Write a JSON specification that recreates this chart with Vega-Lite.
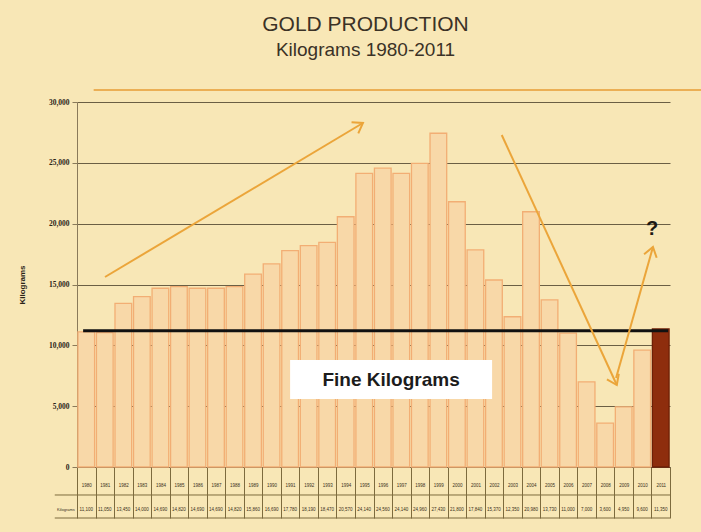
{
  "$schema": "https://vega.github.io/schema/vega-lite/v6.json",
  "width": 593,
  "height": 365,
  "autosize": {"type": "none"},
  "padding": {"left": 77, "top": 102, "right": 31, "bottom": 65},
  "background": "#f8e7b6",
  "config": {"view": {"stroke": null}, "font": "Liberation Sans"},
  "title": {
    "text": "GOLD PRODUCTION",
    "subtitle": "Kilograms 1980-2011",
    "font": "Liberation Sans",
    "subtitleFont": "Liberation Sans",
    "fontSize": 21,
    "subtitleFontSize": 19,
    "fontWeight": "normal",
    "color": "#3b3226",
    "subtitleColor": "#3b3226",
    "anchor": "middle",
    "dx": -8,
    "offset": 29,
    "subtitlePadding": 6
  },
  "datasets": {
    "gold": [
      {"year": 1980, "kg": 11100},
      {"year": 1981, "kg": 11050},
      {"year": 1982, "kg": 13450},
      {"year": 1983, "kg": 14000},
      {"year": 1984, "kg": 14690},
      {"year": 1985, "kg": 14820},
      {"year": 1986, "kg": 14690},
      {"year": 1987, "kg": 14690},
      {"year": 1988, "kg": 14820},
      {"year": 1989, "kg": 15860},
      {"year": 1990, "kg": 16690},
      {"year": 1991, "kg": 17780},
      {"year": 1992, "kg": 18190},
      {"year": 1993, "kg": 18470},
      {"year": 1994, "kg": 20570},
      {"year": 1995, "kg": 24140},
      {"year": 1996, "kg": 24560},
      {"year": 1997, "kg": 24140},
      {"year": 1998, "kg": 24960},
      {"year": 1999, "kg": 27430},
      {"year": 2000, "kg": 21800},
      {"year": 2001, "kg": 17840},
      {"year": 2002, "kg": 15370},
      {"year": 2003, "kg": 12350},
      {"year": 2004, "kg": 20980},
      {"year": 2005, "kg": 13730},
      {"year": 2006, "kg": 11000},
      {"year": 2007, "kg": 7000},
      {"year": 2008, "kg": 3600},
      {"year": 2009, "kg": 4950},
      {"year": 2010, "kg": 9600},
      {"year": 2011, "kg": 11350}
    ]
  },
  "layer": [
    {
      "data": {"name": "gold"},
      "layer": [
        {
          "mark": {"type": "bar", "width": {"band": 0.9}, "strokeWidth": 1.3},
          "encoding": {
            "x": {
              "field": "year",
              "type": "ordinal",
              "scale": {"paddingInner": 0, "paddingOuter": 0},
              "axis": {
                "title": null,
                "orient": "bottom",
                "tickBand": "extent",
                "tickSize": 51,
                "tickColor": "#7d6b3e",
                "tickWidth": 1,
                "domainColor": "#5d5238",
                "domainWidth": 1.2,
                "labelAngle": 0,
                "labelFontSize": 4.5,
                "labelColor": "#3a3020",
                "labelBaseline": "middle",
                "labelPadding": -33,
                "labelOverlap": false,
                "labelFlush": false
              }
            },
            "y": {
              "field": "kg",
              "type": "quantitative",
              "scale": {"domain": [0, 30000], "nice": false},
              "axis": {
                "title": "Kilograms",
                "titleFont": "Liberation Sans",
                "titleFontSize": 8,
                "titleFontWeight": "bold",
                "titleColor": "#2b2418",
                "titlePadding": 22,
                "values": [0, 5000, 10000, 15000, 20000, 25000, 30000],
                "format": ",d",
                "labelFont": "Liberation Serif",
                "labelFontWeight": "bold",
                "labelFontSize": 7.5,
                "labelColor": "#2b2418",
                "labelPadding": 3,
                "tickSize": 5,
                "tickColor": "#8a7a5a",
                "domainColor": "#8a7a5a",
                "grid": true,
                "gridColor": "#6b5f44",
                "gridWidth": 1
              }
            },
            "fill": {
              "condition": {"test": "datum.year == 2011", "value": "#8e2d0d"},
              "value": "#f8d8a8"
            },
            "stroke": {
              "condition": {"test": "datum.year == 2011", "value": "#6e1f06"},
              "value": "#f2ae74"
            }
          }
        },
        {
          "mark": {"type": "text", "fontSize": 4.5, "color": "#3a3020", "baseline": "middle"},
          "encoding": {
            "x": {"field": "year", "type": "ordinal", "scale": {"paddingInner": 0, "paddingOuter": 0}},
            "y": {"datum": -3550, "type": "quantitative"},
            "text": {"field": "kg", "type": "quantitative", "format": ",d"}
          }
        }
      ]
    },
    {
      "data": {"values": [{}]},
      "layer": [
        {
          "mark": {"type": "rule", "color": "#7d6b3e", "strokeWidth": 1},
          "encoding": {
            "x": {"datum": 1978.3, "type": "quantitative", "scale": {"domain": [1979.5, 2011.5], "nice": false, "zero": false}, "axis": null},
            "x2": {"datum": 2011.5},
            "y": {"datum": -2301, "type": "quantitative"}
          }
        },
        {
          "mark": {"type": "rule", "color": "#7d6b3e", "strokeWidth": 1},
          "encoding": {
            "x": {"datum": 1978.3, "type": "quantitative"},
            "x2": {"datum": 2011.5},
            "y": {"datum": -4192, "type": "quantitative"}
          }
        },
        {
          "mark": {"type": "text", "text": "Kilograms", "fontSize": 4, "color": "#3a3020", "baseline": "middle"},
          "encoding": {
            "x": {"datum": 1978.9, "type": "quantitative"},
            "y": {"datum": -3550, "type": "quantitative"}
          }
        },
        {
          "mark": {"type": "rule", "color": "#e9a544", "strokeWidth": 2, "strokeOpacity": 0.85},
          "encoding": {
            "x": {"datum": 1980.4, "type": "quantitative"},
            "x2": {"datum": 2013.4},
            "y": {"datum": 30990, "type": "quantitative"}
          }
        },
        {
          "mark": {"type": "rule", "color": "#111111", "strokeWidth": 3},
          "encoding": {
            "x": {"datum": 1979.83, "type": "quantitative"},
            "x2": {"datum": 2011.4},
            "y": {"datum": 11200, "type": "quantitative"}
          }
        },
        {
          "mark": {"type": "rect", "fill": "#ffffff"},
          "encoding": {
            "x": {"datum": 1991.0, "type": "quantitative"},
            "x2": {"datum": 2001.9},
            "y": {"datum": 8795, "type": "quantitative"},
            "y2": {"datum": 5590}
          }
        },
        {
          "mark": {"type": "text", "text": "Fine Kilograms", "fontSize": 19, "fontWeight": "bold", "font": "Liberation Sans", "color": "#1c1c1c", "align": "center", "baseline": "middle"},
          "encoding": {
            "x": {"datum": 1996.45, "type": "quantitative"},
            "y": {"datum": 7150, "type": "quantitative"}
          }
        },
        {
          "mark": {"type": "rule", "color": "#eba53a", "strokeWidth": 2},
          "encoding": {
            "x": {"datum": 1981.01, "type": "quantitative"},
            "x2": {"datum": 1994.93},
            "y": {"datum": 15616, "type": "quantitative"},
            "y2": {"datum": 28273}
          }
        },
        {
          "mark": {"type": "point", "shape": "M-0.7,1L0,0L0.7,1", "filled": false, "size": 350, "angle": 59, "color": "#eba53a", "strokeWidth": 2, "opacity": 1},
          "encoding": {
            "x": {"datum": 1994.93, "type": "quantitative"},
            "y": {"datum": 28273, "type": "quantitative"}
          }
        },
        {
          "mark": {"type": "rule", "color": "#eba53a", "strokeWidth": 2},
          "encoding": {
            "x": {"datum": 2002.42, "type": "quantitative"},
            "x2": {"datum": 2008.63},
            "y": {"datum": 27287, "type": "quantitative"},
            "y2": {"datum": 6740}
          }
        },
        {
          "mark": {"type": "point", "shape": "M-0.7,1L0,0L0.7,1", "filled": false, "size": 350, "angle": 155, "color": "#eba53a", "strokeWidth": 2, "opacity": 1},
          "encoding": {
            "x": {"datum": 2008.63, "type": "quantitative"},
            "y": {"datum": 6740, "type": "quantitative"}
          }
        },
        {
          "mark": {"type": "rule", "color": "#eba53a", "strokeWidth": 2},
          "encoding": {
            "x": {"datum": 2008.59, "type": "quantitative"},
            "x2": {"datum": 2010.58},
            "y": {"datum": 7315, "type": "quantitative"},
            "y2": {"datum": 18082}
          }
        },
        {
          "mark": {"type": "point", "shape": "M-0.7,1L0,0L0.7,1", "filled": false, "size": 350, "angle": 16, "color": "#eba53a", "strokeWidth": 2, "opacity": 1},
          "encoding": {
            "x": {"datum": 2010.58, "type": "quantitative"},
            "y": {"datum": 18082, "type": "quantitative"}
          }
        },
        {
          "mark": {"type": "text", "text": "?", "fontSize": 20, "fontWeight": "bold", "font": "Liberation Sans", "color": "#1e1a14", "align": "center", "baseline": "middle"},
          "encoding": {
            "x": {"datum": 2010.53, "type": "quantitative"},
            "y": {"datum": 19560, "type": "quantitative"}
          }
        }
      ]
    }
  ],
  "resolve": {"scale": {"x": "independent"}, "axis": {"x": "independent"}}
}
